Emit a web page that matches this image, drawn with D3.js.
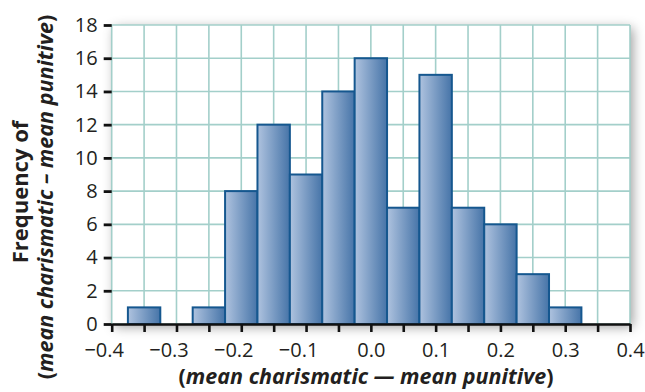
<!DOCTYPE html>
<html><head><meta charset="utf-8">
<script src="https://cdn.jsdelivr.net/npm/d3@7"></script>
<style>body{margin:0;background:#fff}svg{display:block}</style>
</head><body>
<svg id="chart" width="645" height="392"></svg>
<script>
// ---- data ----
const binEdges = [-0.375,-0.325,-0.275,-0.225,-0.175,-0.125,-0.075,-0.025,0.025,0.075,0.125,0.175,0.225,0.275,0.325];
const frequencies = [1,0,1,8,12,9,14,16,7,15,7,6,3,1];
const xTickValues = [-0.4,-0.35,-0.3,-0.25,-0.2,-0.15,-0.1,-0.05,0,0.05,0.1,0.15,0.2,0.25,0.3,0.35,0.4];
const xLabelValues = [-0.4,-0.3,-0.2,-0.1,0,0.1,0.2,0.3,0.4];
const yTickValues = [0,2,4,6,8,10,12,14,16,18];
const xTitle = ["(", "mean charismatic \u2014 mean punitive", ")"];
const yTitle1 = "Frequency of";
const yTitle2 = ["(", "mean charismatic \u2013 mean punitive", ")"];

const bins = frequencies.map((f,i)=>({x0:binEdges[i], x1:binEdges[i+1], n:f}));

const W=645,H=392, m={l:111.7,r:15,t:25,b:68};
const svg=d3.select("#chart");
const font="'Open Sans', sans-serif";
const ink="#231f20";

const x=d3.scaleLinear().domain([-0.4,0.4]).range([m.l,W-m.r]);
const y=d3.scaleLinear().domain([0,18]).range([H-m.b,m.t]);

const defs=svg.append("defs");
const f=defs.append("filter").attr("id","shadow").attr("x","-10%").attr("y","-15%").attr("width","125%").attr("height","135%");
f.append("feDropShadow").attr("dx",3).attr("dy",3).attr("stdDeviation",6).attr("flood-color","#000").attr("flood-opacity",0.38);
const g=defs.append("linearGradient").attr("id","barGrad").attr("x1","0").attr("x2","1").attr("y1","0").attr("y2","0");
g.append("stop").attr("offset","0%").attr("stop-color","#afc3df");
g.append("stop").attr("offset","100%").attr("stop-color","#4674a8");

// plot background with shadow
svg.append("rect").attr("x",x(-0.4)).attr("y",y(18)).attr("width",x(0.4)-x(-0.4)).attr("height",y(0)-y(18))
  .attr("fill","#fff").attr("filter","url(#shadow)");

const gridColor="#a3cfca";
svg.append("g").selectAll("line").data(xTickValues).join("line")
  .attr("x1",d=>x(d)).attr("x2",d=>x(d)).attr("y1",y(0)).attr("y2",y(18))
  .attr("stroke",gridColor).attr("stroke-width",1.6);
svg.append("g").selectAll("line").data(yTickValues).join("line")
  .attr("x1",x(-0.4)).attr("x2",x(0.4)).attr("y1",d=>y(d)).attr("y2",d=>y(d))
  .attr("stroke",gridColor).attr("stroke-width",1.6);

// bars
svg.append("g").selectAll("rect").data(bins.filter(b=>b.n>0)).join("rect")
  .attr("x",d=>x(d.x0)).attr("width",d=>x(d.x1)-x(d.x0))
  .attr("y",d=>y(d.n)).attr("height",d=>y(0)-y(d.n))
  .attr("fill","url(#barGrad)").attr("stroke","#15578f").attr("stroke-width",2);

// x axis
const fmt=d=>{ if(!xLabelValues.some(v=>Math.abs(v-d)<1e-9)) return ""; const s=Math.abs(d).toFixed(1); return d< -1e-9 ? "\u2212"+s : s; };
const xa=svg.append("g").attr("transform",`translate(0,${y(0)})`)
  .call(d3.axisBottom(x).tickValues(xTickValues).tickFormat(fmt).tickSizeInner(8).tickSizeOuter(0).tickPadding(11));
xa.select(".domain").attr("stroke","#111").attr("stroke-width",2.6);
xa.selectAll(".tick line").attr("stroke","#111").attr("stroke-width",2.6);
xa.selectAll("text").attr("font-family",font).attr("font-size",20).attr("fill",ink)
  .attr("dx",function(d){return d< -1e-9 ? -8 : 0;});

// y axis (ticks only)
const ya=svg.append("g").attr("transform",`translate(${x(-0.4)},0)`)
  .call(d3.axisLeft(y).tickValues(yTickValues).tickSizeInner(8).tickSizeOuter(0).tickPadding(6));
ya.select(".domain").remove();
ya.selectAll(".tick line").attr("stroke","#111").attr("stroke-width",2.8);
ya.selectAll("text").attr("font-family",font).attr("font-size",20).attr("fill",ink);

// titles
const xt=svg.append("text").attr("x",366).attr("y",384).attr("text-anchor","middle")
  .attr("font-family",font).attr("font-weight","bold").attr("font-size",21.5).attr("fill",ink);
xt.selectAll("tspan").data(xTitle).join("tspan").text(d=>d).attr("font-style",(d,i)=>i===1?"italic":"normal");

svg.append("text").attr("transform","translate(28,192) rotate(-90)").attr("text-anchor","middle")
  .attr("font-family",font).attr("font-weight","bold").attr("font-size",22).attr("fill",ink).text(yTitle1);
const yt2=svg.append("text").attr("transform","translate(53,197) rotate(-90)").attr("text-anchor","middle")
  .attr("font-family",font).attr("font-weight","bold").attr("font-size",21.5).attr("fill",ink);
yt2.selectAll("tspan").data(yTitle2).join("tspan").text(d=>d).attr("font-style",(d,i)=>i===1?"italic":"normal");
</script>
</body></html>
